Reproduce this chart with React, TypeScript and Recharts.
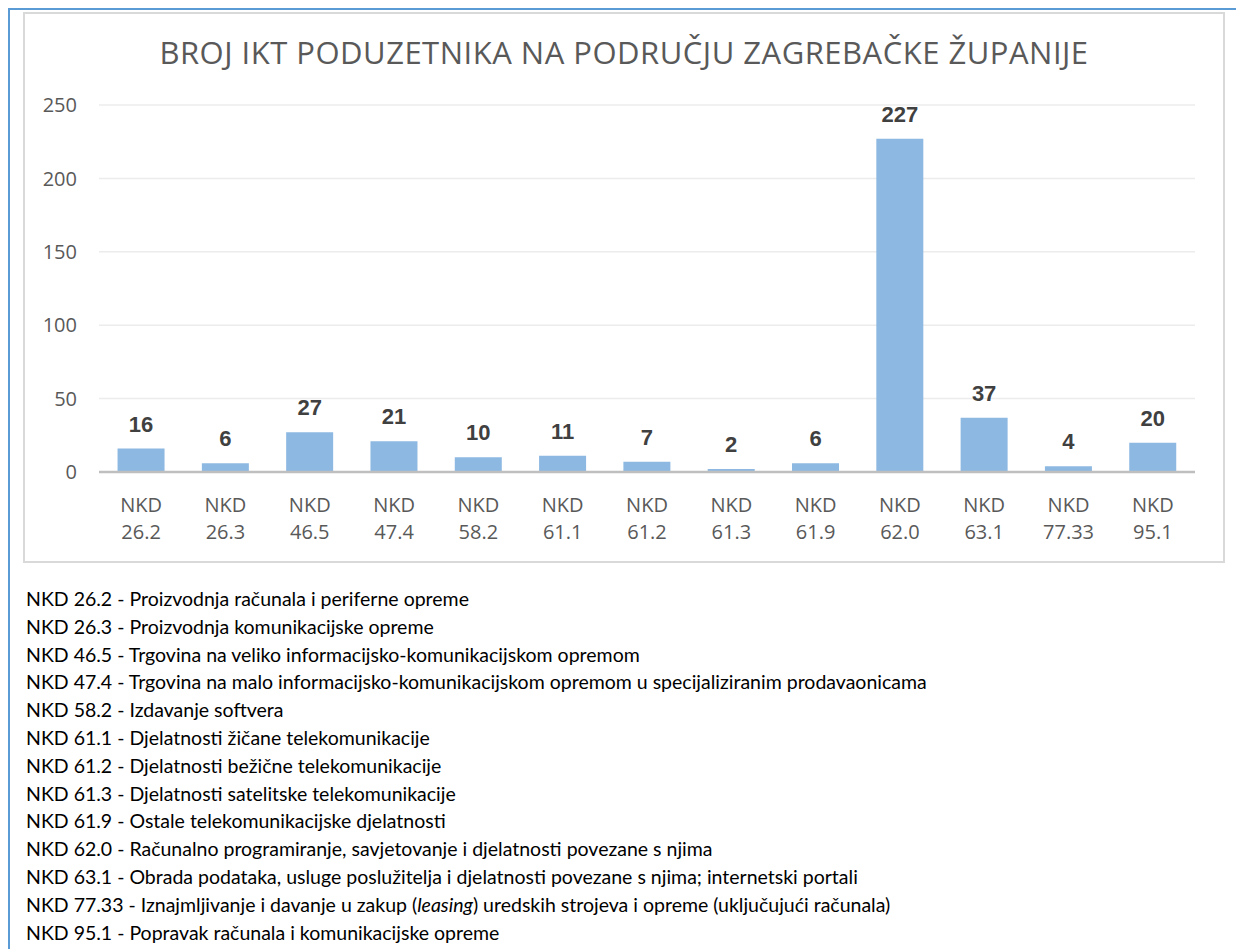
import { BarChart, Bar, XAxis, YAxis, CartesianGrid, LabelList } from 'recharts';

const codes = ['26.2', '26.3', '46.5', '47.4', '58.2', '61.1', '61.2', '61.3', '61.9', '62.0', '63.1', '77.33', '95.1'];
const counts = [16, 6, 27, 21, 10, 11, 7, 2, 6, 227, 37, 4, 20];
const yTicks = [0, 50, 100, 150, 200, 250];
const descriptions = [
  'Proizvodnja računala i periferne opreme',
  'Proizvodnja komunikacijske opreme',
  'Trgovina na veliko informacijsko-komunikacijskom opremom',
  'Trgovina na malo informacijsko-komunikacijskom opremom u specijaliziranim prodavaonicama',
  'Izdavanje softvera',
  'Djelatnosti žičane telekomunikacije',
  'Djelatnosti bežične telekomunikacije',
  'Djelatnosti satelitske telekomunikacije',
  'Ostale telekomunikacijske djelatnosti',
  'Računalno programiranje, savjetovanje i djelatnosti povezane s njima',
  'Obrada podataka, usluge poslužitelja i djelatnosti povezane s njima; internetski portali',
  'Iznajmljivanje i davanje u zakup (*leasing*) uredskih strojeva i opreme (uključujući računala)',
  'Popravak računala i komunikacijske opreme',
];

const TITLE = 'BROJ IKT PODUZETNIKA NA PODRUČJU ZAGREBAČKE ŽUPANIJE';

const data = codes.map((c, i) => ({ name: `NKD ${c}`, value: counts[i] }));

const axisFont = '"Open Sans", sans-serif';

function XTick(props: any) {
  const { x, y, payload } = props;
  const [a, b] = String(payload.value).split(' ');
  return (
    <g>
      <text x={x} y={y + 32} textAnchor="middle" dominantBaseline="central" fill="#595959" fontSize={20} fontFamily={axisFont}>
        {a}
      </text>
      <text x={x} y={y + 59} textAnchor="middle" dominantBaseline="central" fill="#595959" fontSize={20} fontFamily={axisFont}>
        {b}
      </text>
    </g>
  );
}

function renderDesc(text: string) {
  const parts = text.split('*');
  return parts.map((p, i) => (i % 2 === 1 ? <i key={i}>{p}</i> : <span key={i}>{p}</span>));
}

export default function App() {
  return (
    <div
      style={{
        position: 'absolute',
        left: 8,
        top: 8,
        width: 1228,
        height: 941,
        borderLeft: '2px solid #5b9bd5',
        borderTop: '2px solid #5b9bd5',
        boxSizing: 'border-box',
      }}
    >
      <div
        style={{
          position: 'absolute',
          left: 13,
          top: 2,
          width: 1202,
          height: 551,
          border: '2px solid #d9d9d9',
          boxSizing: 'border-box',
          background: '#fff',
        }}
      >
        <div
          style={{
            position: 'absolute',
            left: 0,
            right: 0,
            top: 23,
            textAlign: 'center',
            fontFamily: axisFont,
            fontSize: 31,
            lineHeight: '31px',
            color: '#595959',
            letterSpacing: 0.5,
          }}
        >
          {TITLE}
        </div>
        <BarChart
          width={1198}
          height={547}
          data={data}
          margin={{ top: 91, right: 28, bottom: 0, left: 0 }}
          barCategoryGap="22%"
        >
          <CartesianGrid vertical={false} stroke="#ececec" strokeWidth={1.5} />
          <XAxis
            dataKey="name"
            interval={0}
            height={89}
            tickLine={false}
            tickSize={0}
            tickMargin={0}
            axisLine={{ stroke: '#bfbfbf', strokeWidth: 2.5 }}
            tick={<XTick />}
          />
          <YAxis
            domain={[0, 250]}
            ticks={yTicks}
            width={74}
            axisLine={false}
            tickLine={false}
            tickSize={0}
            tickMargin={22}
            tick={{ fill: '#595959', fontSize: 20, fontFamily: axisFont }}
          />
          <Bar dataKey="value" fill="#8db8e2" isAnimationActive={false}>
            <LabelList
              dataKey="value"
              position="top"
              offset={17}
              fill="#404040"
              fontSize={22}
              fontWeight="bold"
              fontFamily='"Liberation Sans", Arial, sans-serif'
            />
          </Bar>
        </BarChart>
      </div>
      <div
        style={{
          position: 'absolute',
          left: 16,
          top: 575,
          fontFamily: 'Lato, sans-serif',
          fontSize: 19.5,
          lineHeight: '27.8px',
          color: '#000',
          whiteSpace: 'nowrap',
        }}
      >
        {codes.map((c, i) => (
          <div key={c}>
            NKD {c} - {renderDesc(descriptions[i])}
          </div>
        ))}
      </div>
    </div>
  );
}
